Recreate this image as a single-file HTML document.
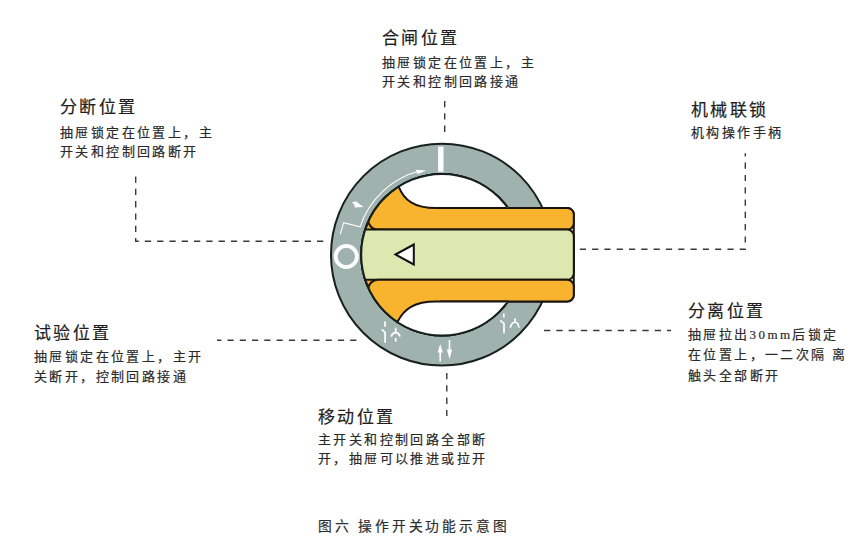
<!DOCTYPE html>
<html lang="zh-CN">
<head>
<meta charset="utf-8">
<style>
html,body{margin:0;padding:0;background:#fff;}
body{width:858px;height:544px;position:relative;overflow:hidden;}
svg{position:absolute;left:0;top:0;}
.t{position:absolute;white-space:nowrap;font-family:"Liberation Sans",sans-serif;color:#1e1e1e;line-height:1;}
.h{font-size:17px;letter-spacing:2.4px;-webkit-text-stroke:0.2px #1e1e1e;}
.b{font-family:"Liberation Serif",serif;font-size:13px;letter-spacing:2.4px;color:#2a2a2a;-webkit-text-stroke:0.2px #2a2a2a;}
.cap{font-size:13.8px;letter-spacing:2.8px;color:#2e2e2e;-webkit-text-stroke:0.2px #2e2e2e;}
</style>
</head>
<body>
<svg width="858" height="544" viewBox="0 0 858 544">
  <defs>
    <clipPath id="cc"><circle cx="442" cy="254.7" r="80.8"/></clipPath>
    <clipPath id="cin">
      <circle cx="442" cy="254.7" r="80.8"/>
      <rect x="442" y="0" width="300" height="544"/>
    </clipPath>
    <clipPath id="cl"><path clip-rule="evenodd" d="M0 0 H858 V544 H0 Z M442 207 H600 V302.4 H442 Z"/></clipPath>
  </defs>
  <!-- dashed leaders -->
  <g fill="none" stroke="#3a3a3a" stroke-width="1.4" stroke-dasharray="6.3 6">
    <path d="M444.7 101 V133"/>
    <path d="M135.7 176.5 V241.2 H324"/>
    <path d="M579.8 249.3 H745.3 V153.2" stroke-dasharray="6.2 6.1"/>
    <path d="M217 340.2 H356.6" stroke-dasharray="6.2 6.07" stroke-dashoffset="1.8"/>
    <path d="M446.8 373 V416"/>
    <path d="M544 330.5 H671"/>
  </g>
  <!-- ring -->
  <path fill="#a0b2ae" fill-rule="evenodd" stroke="#17201d" stroke-width="2"
    d="M331 254.6 a110.9 110.9 0 1 0 221.8 0 a110.9 110.9 0 1 0 -221.8 0 Z M361.2 254.7 a80.8 80.8 0 1 0 161.6 0 a80.8 80.8 0 1 0 -161.6 0 Z"/>
  <!-- knob base inside ring -->
  <circle cx="442" cy="254.7" r="80.8" fill="#f8b42e" stroke="#17201d" stroke-width="2"/>
  <g clip-path="url(#cin)" stroke="#1a1410" stroke-width="2">
    <rect x="420" y="208" width="153.8" height="93.4" rx="6.5" fill="#e9e6c8"/>
    <path fill="#f8b42e" d="M368 208 H567.3 A6.5 6.5 0 0 1 573.8 214.5 V223.1 A6.5 6.5 0 0 1 567.3 229.6 H378 A10 10 0 0 1 368 219.6 Z"/>
    <rect x="350" y="229.6" width="223.8" height="50.2" rx="6.5" fill="#dde7b0"/>
    <path fill="#f8b42e" d="M378 279.8 H567.3 A6.5 6.5 0 0 1 573.8 286.3 V294.9 A6.5 6.5 0 0 1 567.3 301.4 H368 V289.8 A10 10 0 0 1 378 279.8 Z"/>
  </g>
  <g clip-path="url(#cc)">
    <rect x="360" y="200" width="80" height="14" fill="#f8b42e"/>
    <rect x="360" y="295.5" width="80" height="14" fill="#f8b42e"/>
    <path fill="#fff" stroke="#1a1410" stroke-width="2" d="M398.8 186.8 C404 200 414 208 436 208 L540 208 L540 150 L380 150 Z"/>
    <path fill="#fff" stroke="#1a1410" stroke-width="2" d="M397.7 321.5 C404 309 414 301.4 436 301.4 L540 301.4 L540 360 L380 360 Z"/>
  </g>
  <circle cx="442" cy="254.7" r="80.8" fill="none" stroke="#17201d" stroke-width="2" clip-path="url(#cl)"/>
  <!-- triangle -->
  <path d="M395.5 254.5 L413.8 244.5 L413.8 264.5 Z" fill="#fff" stroke="#111" stroke-width="2" stroke-linejoin="miter"/>
  <!-- ring symbols -->
  <g fill="none" stroke="#fff" stroke-linecap="butt">
    <rect x="438.1" y="146.6" width="5.4" height="25.2" fill="#fff" stroke="none"/>
    <circle cx="346.3" cy="256.5" r="10.6" stroke-width="3.9"/>
    <path stroke-width="1.1" d="M340.3 234.1 L343.7 222.6 L360.1 226.8 A86 86 0 0 1 420 170.8"/>
    <path stroke-width="1.7" d="M385 321.6 V326.7 M381.6 329.3 L385.1 332.4 V342.8 M395.7 327.7 V332.3 M391.2 336.6 Q392 333 395.7 332.3 Q399.2 333 400 336.6 M395.7 337.9 V341.8"/>
    <path stroke-width="1.7" d="M503.8 313.4 V317.5 M500.3 320.4 L504 323.6 V333.3 M515.1 318.5 V322 M510.3 327.7 Q511.3 322.8 515.1 322 Q518.3 322.8 519 327.7"/>
    <path stroke-width="1.6" d="M440.2 352 V361.5 M449.5 340 V350"/>
  </g>
  <g fill="#fff">
    <path d="M351.8 202.4 L355.8 201.3 L363.5 207.1 L354.8 207.4 L354.2 204.3 Z"/>
    <path d="M426.2 170.5 L415.8 169.7 L417.6 174.3 Z"/>
    <path d="M440.2 344 L442.8 352.5 L437.6 352.5 Z"/>
    <path d="M449.5 359.3 L452.1 349.5 L446.9 349.5 Z"/>
  </g>
</svg>

<div class="t h" style="left:382px;top:30px">合闸位置</div>
<div class="t b" style="left:382px;top:56px">抽屉锁定在位置上，主</div>
<div class="t b" style="left:382px;top:75px">开关和控制回路接通</div>

<div class="t h" style="left:60px;top:99px">分断位置</div>
<div class="t b" style="left:60px;top:126px">抽屉锁定在位置上，主</div>
<div class="t b" style="left:60px;top:145px">开关和控制回路断开</div>

<div class="t h" style="left:691px;top:102px">机械联锁</div>
<div class="t b" style="left:691px;top:125.5px">机构操作手柄</div>

<div class="t h" style="left:34px;top:325px">试验位置</div>
<div class="t b" style="left:34px;top:350px">抽屉锁定在位置上，主开</div>
<div class="t b" style="left:34px;top:370px">关断开，控制回路接通</div>

<div class="t h" style="left:688px;top:303px">分离位置</div>
<div class="t b" style="left:688px;top:328px">抽屉拉出30mm后锁定</div>
<div class="t b" style="left:688px;top:348px">在位置上，一二次隔 离</div>
<div class="t b" style="left:688px;top:369px">触头全部断开</div>

<div class="t h" style="left:318px;top:409px">移动位置</div>
<div class="t b" style="left:318px;top:433px">主开关和控制回路全部断</div>
<div class="t b" style="left:318px;top:452px">开，抽屉可以推进或拉开</div>

<div class="t cap" style="left:318px;top:519.5px">图六 操作开关功能示意图</div>
</body>
</html>
